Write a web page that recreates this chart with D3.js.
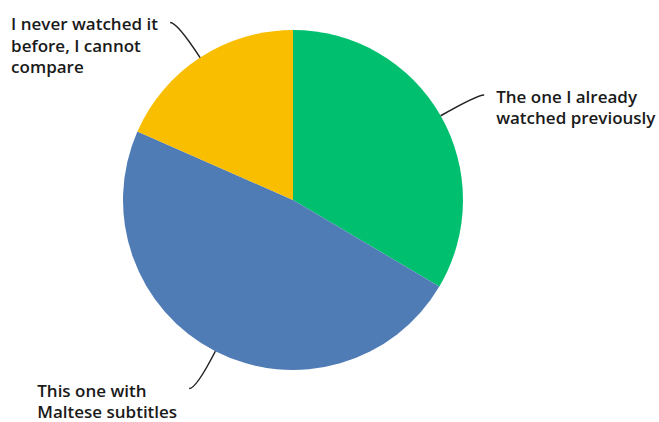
<!DOCTYPE html>
<html>
<head>
<meta charset="utf-8">
<script src="https://cdn.jsdelivr.net/npm/d3@7/dist/d3.min.js"></script>
<style>
  html, body { margin: 0; padding: 0; background: #fff; }
  svg { display: block; }
  .lbl { font-family: "Open Sans", "Noto Sans", sans-serif; font-weight: 600; font-size: 17px; fill: #1a1a1a; }
</style>
</head>
<body>
<svg id="chart" width="659" height="422"></svg>
<script>
// Answer options, share of responses (%) and slice colours
const categories = [
  "The one I already watched previously",
  "This one with Maltese subtitles",
  "I never watched it before, I cannot compare"
];
const values = [33.5, 48.1, 18.4];
const colors = ["#00BF6F", "#507CB6", "#F9BE00"];
// Label text broken into lines
const labelLines = [
  ["The one I already", "watched previously"],
  ["This one with", "Maltese subtitles"],
  ["I never watched it", "before, I cannot", "compare"]
];

const W = 659, H = 422;
const cx = 293, cy = 200, R = 170;
const leaderOut = 42, leaderHook = 7, textGap = 12, lineH = 21.5;

const svg = d3.select("#chart");
const g = svg.append("g").attr("transform", `translate(${cx},${cy})`);

const pie = d3.pie().sort(null).value(d => d.value);
const data = pie(categories.map((c, i) => ({ name: c, value: values[i], color: colors[i], lines: labelLines[i] })));

const arc = d3.arc().innerRadius(0).outerRadius(R);

g.selectAll("path.slice")
  .data(data)
  .join("path")
  .attr("class", "slice")
  .attr("d", arc)
  .attr("fill", d => d.data.color);

// Curved leader lines: radial run from the slice edge, bending into a short horizontal hook
function pt(angle, r) {
  return [r * Math.sin(angle), -r * Math.cos(angle)];
}

data.forEach(d => {
  const a = (d.startAngle + d.endAngle) / 2;
  const p0 = pt(a, R);
  const dirX = Math.sin(a), dirY = -Math.cos(a);
  const c = [p0[0] + dirX * leaderOut, p0[1] + dirY * leaderOut];
  const side = dirX >= 0 ? 1 : -1;
  const end = [c[0] + side * leaderHook, c[1]];

  g.append("path")
    .attr("d", `M${p0[0]},${p0[1]} Q${c[0]},${c[1]} ${end[0]},${end[1]}`)
    .attr("fill", "none")
    .attr("stroke", "#222")
    .attr("stroke-width", 1.5);

  const t = g.append("text").attr("class", "lbl");
  d.data.lines.forEach((ln, i) => {
    t.append("tspan")
      .attr("x", 0)
      .attr("dy", i === 0 ? 0 : lineH)
      .text(ln);
  });
  const bw = t.node().getBBox().width;
  const tx = side > 0 ? end[0] + textGap : end[0] - textGap - bw;
  const ty = end[1] + 8;
  t.attr("transform", `translate(${tx},${ty})`);
});
</script>
</body>
</html>
